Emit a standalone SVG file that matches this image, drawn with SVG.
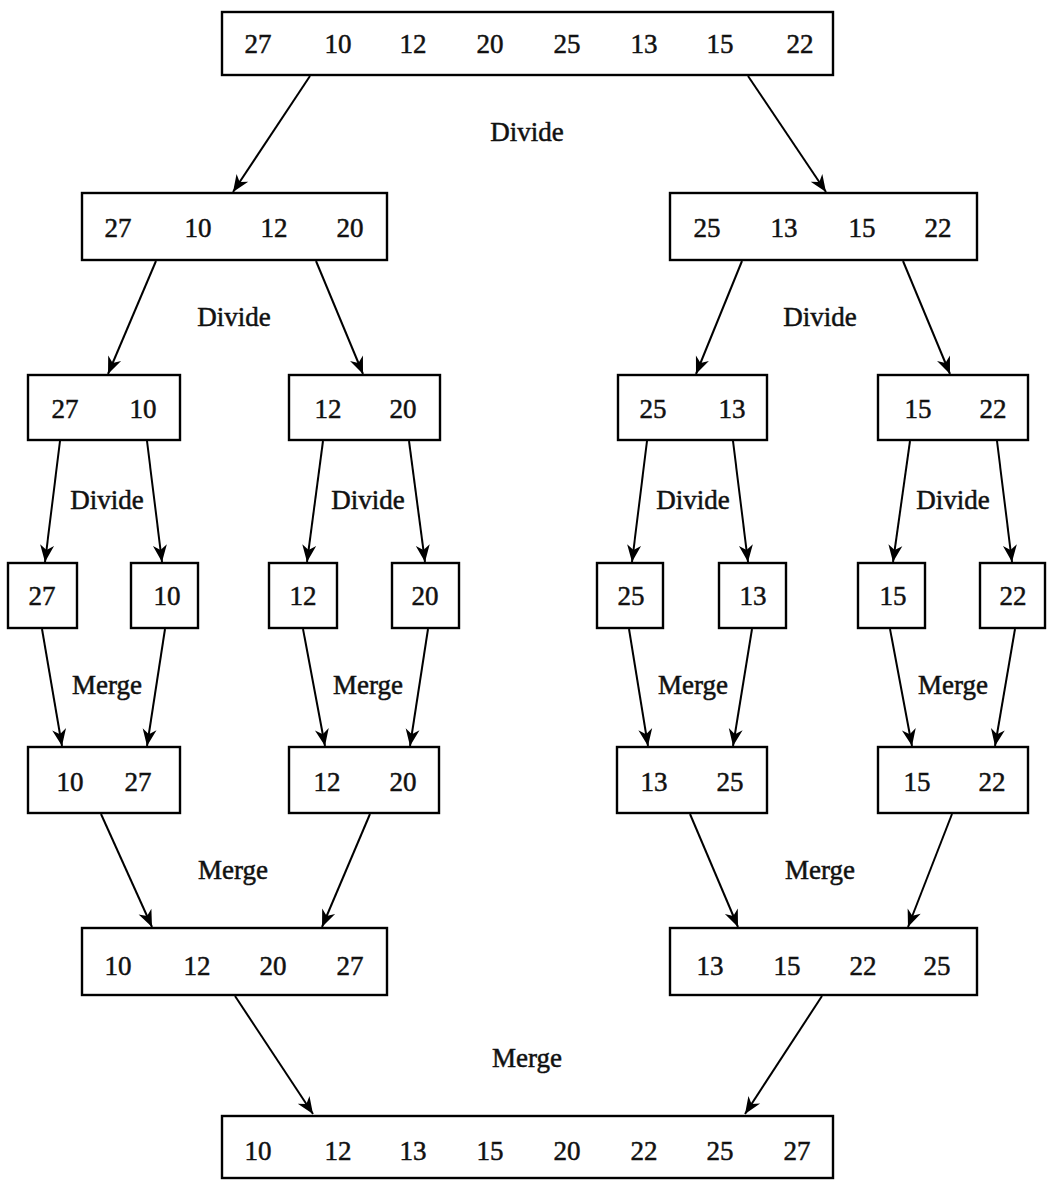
<svg xmlns="http://www.w3.org/2000/svg" width="1047" height="1180" viewBox="0 0 1047 1180">
<style>
.box{fill:#fff;stroke:#000;stroke-width:2.4}
.n{font-family:"Liberation Serif","Times New Roman",serif;font-size:27px;fill:#111;stroke:#111;stroke-width:0.5;text-anchor:middle}
.l{font-family:"Liberation Serif","Times New Roman",serif;font-size:27px;fill:#111;stroke:#111;stroke-width:0.5;text-anchor:middle}
.c{stroke:#000;stroke-width:2;fill:none;marker-end:url(#ah)}
</style>
<defs>
<marker id="ah" markerUnits="userSpaceOnUse" markerWidth="22" markerHeight="18" viewBox="-19 -9 22 18" refX="0" refY="0" orient="auto">
<path d="M0,0 L-17,-7 L-12,0 L-17,7 Z" fill="#000"/>
</marker>
</defs>
<rect width="1047" height="1180" fill="#fff"/>

<g id="connectors">
<line class="c" x1="310" y1="76" x2="233" y2="192"/>
<line class="c" x1="748" y1="76" x2="826" y2="192"/>
<line class="c" x1="156" y1="261" x2="108" y2="374"/>
<line class="c" x1="316" y1="261" x2="363" y2="374"/>
<line class="c" x1="742" y1="261" x2="696" y2="374"/>
<line class="c" x1="903" y1="261" x2="950" y2="374"/>
<line class="c" x1="60" y1="441" x2="45" y2="562"/>
<line class="c" x1="147" y1="441" x2="162" y2="562"/>
<line class="c" x1="323" y1="441" x2="307" y2="562"/>
<line class="c" x1="409" y1="441" x2="425" y2="562"/>
<line class="c" x1="647" y1="441" x2="632" y2="562"/>
<line class="c" x1="733" y1="441" x2="748" y2="562"/>
<line class="c" x1="910" y1="441" x2="893" y2="562"/>
<line class="c" x1="997" y1="441" x2="1012" y2="562"/>
<line class="c" x1="42" y1="629" x2="62" y2="746"/>
<line class="c" x1="165" y1="629" x2="147" y2="746"/>
<line class="c" x1="303" y1="629" x2="325" y2="746"/>
<line class="c" x1="428" y1="629" x2="410" y2="746"/>
<line class="c" x1="629" y1="629" x2="648" y2="746"/>
<line class="c" x1="752" y1="629" x2="733" y2="746"/>
<line class="c" x1="890" y1="629" x2="912" y2="746"/>
<line class="c" x1="1015" y1="629" x2="995" y2="746"/>
<line class="c" x1="101" y1="814" x2="152" y2="927"/>
<line class="c" x1="370" y1="814" x2="322" y2="927"/>
<line class="c" x1="690" y1="814" x2="738" y2="927"/>
<line class="c" x1="952" y1="814" x2="908" y2="927"/>
<line class="c" x1="235" y1="996" x2="313" y2="1114"/>
<line class="c" x1="822" y1="996" x2="745" y2="1114"/>
</g>

<g id="labels">
<text class="l" x="527" y="141">Divide</text>
<text class="l" x="234" y="326">Divide</text>
<text class="l" x="820" y="326">Divide</text>
<text class="l" x="107" y="509">Divide</text>
<text class="l" x="368" y="509">Divide</text>
<text class="l" x="693" y="509">Divide</text>
<text class="l" x="953" y="509">Divide</text>
<text class="l" x="107" y="694">Merge</text>
<text class="l" x="368" y="694">Merge</text>
<text class="l" x="693" y="694">Merge</text>
<text class="l" x="953" y="694">Merge</text>
<text class="l" x="233" y="879">Merge</text>
<text class="l" x="820" y="879">Merge</text>
<text class="l" x="527" y="1067">Merge</text>
</g>

<g id="n0"><rect class="box" x="222" y="12" width="611" height="63"/>
<text class="n" y="53"><tspan x="258">27</tspan><tspan x="338">10</tspan><tspan x="413">12</tspan><tspan x="490">20</tspan><tspan x="567">25</tspan><tspan x="644">13</tspan><tspan x="720">15</tspan><tspan x="800">22</tspan></text></g>

<g id="n1a"><rect class="box" x="82" y="193" width="305" height="67"/>
<text class="n" y="237"><tspan x="118">27</tspan><tspan x="198">10</tspan><tspan x="274">12</tspan><tspan x="350">20</tspan></text></g>
<g id="n1b"><rect class="box" x="670" y="193" width="307" height="67"/>
<text class="n" y="237"><tspan x="707">25</tspan><tspan x="784">13</tspan><tspan x="862">15</tspan><tspan x="938">22</tspan></text></g>

<g id="n2a"><rect class="box" x="28" y="375" width="152" height="65"/>
<text class="n" y="418"><tspan x="65">27</tspan><tspan x="143">10</tspan></text></g>
<g id="n2b"><rect class="box" x="289" y="375" width="151" height="65"/>
<text class="n" y="418"><tspan x="328">12</tspan><tspan x="403">20</tspan></text></g>
<g id="n2c"><rect class="box" x="618" y="375" width="149" height="65"/>
<text class="n" y="418"><tspan x="653">25</tspan><tspan x="732">13</tspan></text></g>
<g id="n2d"><rect class="box" x="878" y="375" width="150" height="65"/>
<text class="n" y="418"><tspan x="918">15</tspan><tspan x="993">22</tspan></text></g>

<g id="n3a"><rect class="box" x="8" y="563" width="69" height="65"/><text class="n" x="42" y="605">27</text></g>
<g id="n3b"><rect class="box" x="131" y="563" width="67" height="65"/><text class="n" x="167" y="605">10</text></g>
<g id="n3c"><rect class="box" x="269" y="563" width="68" height="65"/><text class="n" x="303" y="605">12</text></g>
<g id="n3d"><rect class="box" x="392" y="563" width="67" height="65"/><text class="n" x="425" y="605">20</text></g>
<g id="n3e"><rect class="box" x="597" y="563" width="66" height="65"/><text class="n" x="631" y="605">25</text></g>
<g id="n3f"><rect class="box" x="719" y="563" width="67" height="65"/><text class="n" x="753" y="605">13</text></g>
<g id="n3g"><rect class="box" x="858" y="563" width="67" height="65"/><text class="n" x="893" y="605">15</text></g>
<g id="n3h"><rect class="box" x="980" y="563" width="65" height="65"/><text class="n" x="1013" y="605">22</text></g>

<g id="n4a"><rect class="box" x="28" y="747" width="152" height="66"/>
<text class="n" y="791"><tspan x="70">10</tspan><tspan x="138">27</tspan></text></g>
<g id="n4b"><rect class="box" x="289" y="747" width="150" height="66"/>
<text class="n" y="791"><tspan x="327">12</tspan><tspan x="403">20</tspan></text></g>
<g id="n4c"><rect class="box" x="617" y="747" width="150" height="66"/>
<text class="n" y="791"><tspan x="654">13</tspan><tspan x="730">25</tspan></text></g>
<g id="n4d"><rect class="box" x="878" y="747" width="150" height="66"/>
<text class="n" y="791"><tspan x="917">15</tspan><tspan x="992">22</tspan></text></g>

<g id="n5a"><rect class="box" x="82" y="928" width="305" height="67"/>
<text class="n" y="975"><tspan x="118">10</tspan><tspan x="197">12</tspan><tspan x="273">20</tspan><tspan x="350">27</tspan></text></g>
<g id="n5b"><rect class="box" x="670" y="928" width="307" height="67"/>
<text class="n" y="975"><tspan x="710">13</tspan><tspan x="787">15</tspan><tspan x="863">22</tspan><tspan x="937">25</tspan></text></g>

<g id="n6"><rect class="box" x="222" y="1116" width="611" height="62"/>
<text class="n" y="1160"><tspan x="258">10</tspan><tspan x="338">12</tspan><tspan x="413">13</tspan><tspan x="490">15</tspan><tspan x="567">20</tspan><tspan x="644">22</tspan><tspan x="720">25</tspan><tspan x="797">27</tspan></text></g>
</svg>
